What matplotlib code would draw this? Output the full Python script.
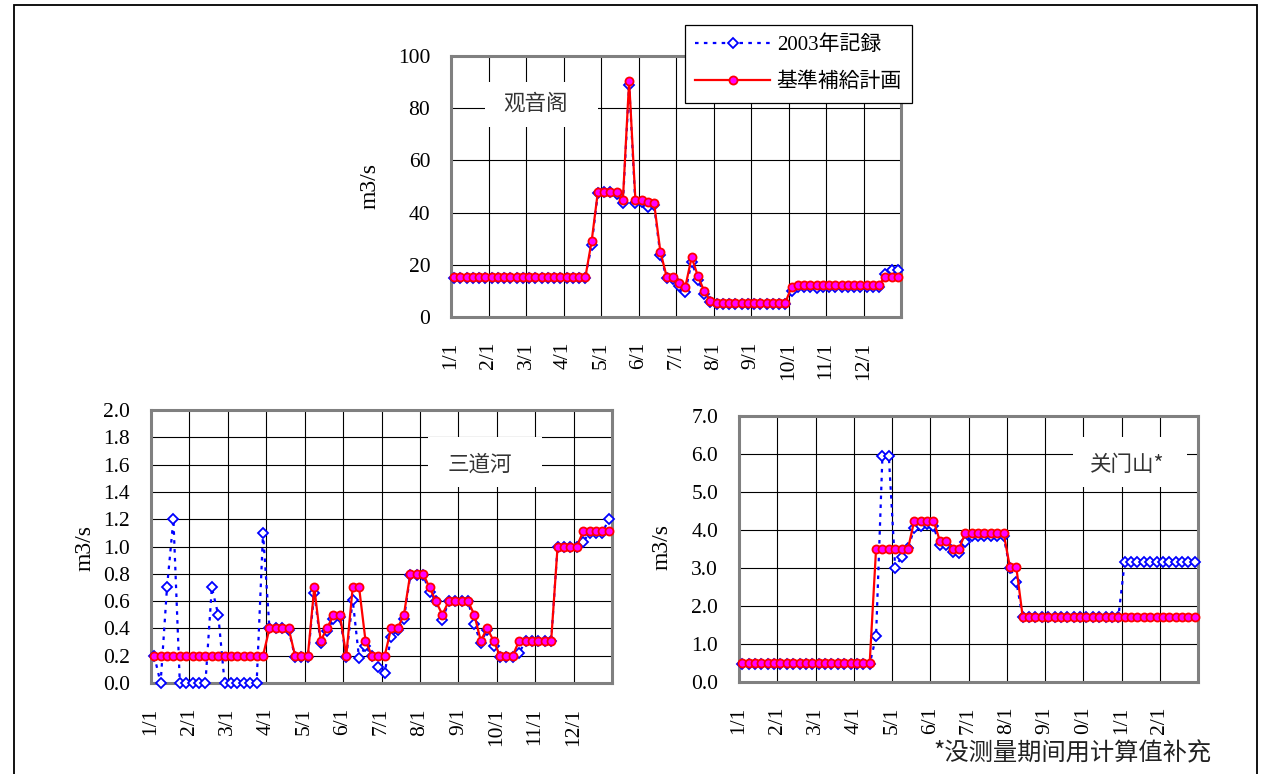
import matplotlib
matplotlib.use('Agg')
import matplotlib.pyplot as plt
from matplotlib.lines import Line2D
from matplotlib.patches import Rectangle

plt.rcParams['font.family'] = ['Liberation Serif', 'Noto Sans CJK JP', 'DejaVu Sans']

# ---- data: 6 values per month (72 per year) ----
month_labels = ['1/1', '2/1', '3/1', '4/1', '5/1', '6/1', '7/1', '8/1', '9/1', '10/1', '11/1', '12/1']
month_labels_gms = ['1/1', '2/1', '3/1', '4/1', '5/1', '6/1', '7/1', '8/1', '9/1', '0/1', '1/1', '2/1']

# 观音阁
gya_rec = [15.0, 15.0, 15.0, 15.0, 15.0, 15.0, 15.0, 15.0, 15.0, 15.0, 15.0, 15.0,
           15.0, 15.0, 15.0, 15.0, 15.0, 15.0, 15.0, 15.0, 15.0, 15.0, 27.6, 47.5,
           47.8, 47.8, 47.3, 43.5, 89.0, 43.5, 44.0, 42.3, 42.8, 23.7, 15.0, 14.5,
           12.0, 9.7, 21.2, 14.2, 9.0, 5.6, 4.8, 4.8, 4.8, 4.8, 4.8, 4.8,
           4.8, 4.8, 4.8, 4.8, 4.8, 4.8, 10.0, 11.5, 11.5, 11.5, 11.0, 11.5,
           11.5, 11.5, 11.5, 11.5, 11.5, 11.5, 11.5, 11.5, 11.5, 16.5, 18.0, 18.0]
gya_plan = [15.3, 15.3, 15.3, 15.3, 15.3, 15.3, 15.3, 15.3, 15.3, 15.3, 15.3, 15.3,
            15.3, 15.3, 15.3, 15.3, 15.3, 15.3, 15.3, 15.3, 15.3, 15.3, 29.0, 48.0,
            48.0, 48.0, 48.0, 44.8, 90.5, 45.0, 45.0, 44.0, 43.5, 25.0, 15.5, 15.5,
            12.9, 11.6, 22.9, 15.7, 10.0, 6.2, 5.5, 5.5, 5.5, 5.5, 5.5, 5.5,
            5.5, 5.5, 5.5, 5.5, 5.5, 5.5, 11.6, 12.3, 12.3, 12.3, 12.3, 12.3,
            12.3, 12.3, 12.3, 12.3, 12.3, 12.3, 12.3, 12.3, 12.3, 15.5, 15.5, 15.5]

# 三道河
sdh_rec = [0.2, 0.0, 0.7, 1.2, 0.0, 0.0, 0.0, 0.0, 0.0, 0.7, 0.5, 0.0,
           0.0, 0.0, 0.0, 0.0, 0.0, 1.1, 0.4, 0.4, 0.4, 0.39, 0.19, 0.19,
           0.19, 0.66, 0.29, 0.38, 0.47, 0.48, 0.19, 0.61, 0.18, 0.27, 0.2, 0.12,
           0.075, 0.34, 0.39, 0.47, 0.79, 0.79, 0.79, 0.67, 0.6, 0.46, 0.6, 0.6,
           0.6, 0.6, 0.43, 0.295, 0.39, 0.27, 0.19, 0.19, 0.19, 0.22, 0.31, 0.31,
           0.31, 0.31, 0.31, 1.0, 1.0, 1.0, 1.0, 1.035, 1.1, 1.1, 1.1, 1.2]
sdh_plan = [0.2, 0.2, 0.2, 0.2, 0.2, 0.2, 0.2, 0.2, 0.2, 0.2, 0.2, 0.2,
            0.2, 0.2, 0.2, 0.2, 0.2, 0.2, 0.4, 0.4, 0.4, 0.4, 0.2, 0.2,
            0.2, 0.7, 0.31, 0.4, 0.5, 0.5, 0.2, 0.7, 0.7, 0.31, 0.2, 0.2,
            0.2, 0.4, 0.4, 0.5, 0.8, 0.8, 0.8, 0.7, 0.6, 0.5, 0.6, 0.6,
            0.6, 0.6, 0.5, 0.31, 0.4, 0.31, 0.2, 0.2, 0.2, 0.31, 0.31, 0.31,
            0.31, 0.31, 0.31, 1.0, 1.0, 1.0, 1.0, 1.11, 1.11, 1.11, 1.11, 1.11]

# 关门山
gms_rec = [0.47, 0.47, 0.47, 0.47, 0.47, 0.47, 0.47, 0.47, 0.47, 0.47, 0.47, 0.47,
           0.47, 0.47, 0.47, 0.47, 0.47, 0.47, 0.47, 0.47, 0.47, 1.2, 5.95, 5.95,
           3.0, 3.3, 3.52, 4.04, 4.1, 4.15, 4.1, 3.6, 3.6, 3.43, 3.4, 3.69,
           3.83, 3.83, 3.83, 3.83, 3.83, 3.83, 3.0, 2.64, 1.7, 1.7, 1.7, 1.7,
           1.7, 1.7, 1.7, 1.7, 1.7, 1.7, 1.7, 1.7, 1.7, 1.7, 1.7, 1.7,
           3.15, 3.15, 3.15, 3.15, 3.15, 3.15, 3.15, 3.15, 3.15, 3.15, 3.15, 3.15]
gms_plan = [0.5, 0.5, 0.5, 0.5, 0.5, 0.5, 0.5, 0.5, 0.5, 0.5, 0.5, 0.5,
            0.5, 0.5, 0.5, 0.5, 0.5, 0.5, 0.5, 0.5, 0.5, 3.5, 3.5, 3.5,
            3.5, 3.5, 3.5, 4.25, 4.25, 4.25, 4.25, 3.72, 3.72, 3.5, 3.5, 3.92,
            3.92, 3.92, 3.92, 3.92, 3.92, 3.92, 3.02, 3.02, 1.72, 1.72, 1.72, 1.72,
            1.72, 1.72, 1.72, 1.72, 1.72, 1.72, 1.72, 1.72, 1.72, 1.72, 1.72, 1.72,
            1.72, 1.72, 1.72, 1.72, 1.72, 1.72, 1.72, 1.72, 1.72, 1.72, 1.72, 1.72]

W, H = 1263, 774
fig = plt.figure(figsize=(W / 100, H / 100), dpi=100)

cjk = ['Noto Sans CJK SC', 'DejaVu Sans']
rec_style = dict(color='#0000ff', linestyle=(0, (1.6, 2.4)), linewidth=1.6,
                 marker='D', markersize=4.8, markerfacecolor='white',
                 markeredgecolor='#0000ff', markeredgewidth=1.3)
plan_style = dict(color='#ff0000', linestyle='-', linewidth=1.6,
                  marker='o', markersize=5.8, markerfacecolor='#ff00ff',
                  markeredgecolor='#ff0000', markeredgewidth=1.3)


def fx(x):
    return x / W


def fy(y):
    return 1 - y / H


def panel(box, rec, plan, ymax, ystep, yfmt, xlabels, title, tbox, tpos, ylab_pos):
    l, t, r, b = box
    ax = fig.add_axes([fx(l), fy(b), fx(r) - fx(l), fy(t) - fy(b)])
    x = [i + 0.5 for i in range(len(rec))]
    ax.plot(x, rec, zorder=3, clip_on=False, **rec_style)
    ax.plot(x, plan, zorder=4, clip_on=False, **plan_style)
    ax.set_xlim(0, 72)
    ax.set_ylim(0, ymax)
    ax.set_xticks(range(0, 72, 6))
    ax.set_xticklabels(xlabels, rotation=90, va='top', fontsize=15.5)
    nt = int(round(ymax / ystep))
    yt = [k * ystep for k in range(nt + 1)]
    ax.set_yticks(yt)
    ax.set_yticklabels([yfmt.format(v) for v in yt], fontsize=15.5)
    ax.tick_params(length=0, pad=15)
    ax.tick_params(axis='x', pad=18)
    ax.set_axisbelow(True)
    ax.grid(True, color='black', linewidth=0.8)
    for s in ax.spines.values():
        s.set_color('#808080')
        s.set_linewidth(2.2)
    bl, bt, br, bb = tbox
    ax.add_patch(Rectangle((fx(bl), fy(bb)), fx(br) - fx(bl), fy(bt) - fy(bb),
                           transform=fig.transFigure, facecolor='white',
                           edgecolor='none', zorder=1))
    fig.text(fx(tpos[0]), fy(tpos[1]), title, ha='center', va='center',
             fontsize=15.5, color='#333333', family=cjk, zorder=6)
    fig.text(fx(ylab_pos[0]), fy(ylab_pos[1]), 'm3/s', rotation=90,
             ha='center', va='center', fontsize=17)
    return ax


panel((451, 56, 901, 317), gya_rec, gya_plan, 100, 20, '{:.0f}', month_labels,
      '观音阁', (485, 82, 598, 127), (535, 104), (370, 186))
panel((151, 410, 612, 683), sdh_rec, sdh_plan, 2.0, 0.2, '{:.1f}', month_labels,
      '三道河', (428, 437, 542, 487), (480, 465), (85, 548))
panel((739, 416, 1198, 682), gms_rec, gms_plan, 7.0, 1.0, '{:.1f}', month_labels_gms,
      '关门山*', (1073, 437, 1187, 487), (1127, 465), (662, 547))

handles = [Line2D([], [], **rec_style), Line2D([], [], **plan_style)]
leg = fig.legend(handles, ['2003年記録', '基準補給計画'], loc='upper left',
                 bbox_to_anchor=(fx(685), fy(25)), bbox_transform=fig.transFigure,
                 fontsize=15, handlelength=3.6, handletextpad=0.3,
                 labelspacing=0.85, borderpad=0.5, fancybox=False,
                 edgecolor='black', framealpha=1, borderaxespad=0)
leg.get_frame().set_linewidth(0.9)

fig.text(fx(1212), fy(753), '*没测量期间用计算值补充', ha='right', va='center',
         fontsize=17.5, family=cjk, color='#222222')

fig.add_artist(Rectangle((fx(14), -0.02), fx(1257) - fx(14), fy(5) + 0.02,
                         transform=fig.transFigure, fill=False,
                         edgecolor='black', linewidth=1.3))

fig.savefig('out.png', dpi=100)
